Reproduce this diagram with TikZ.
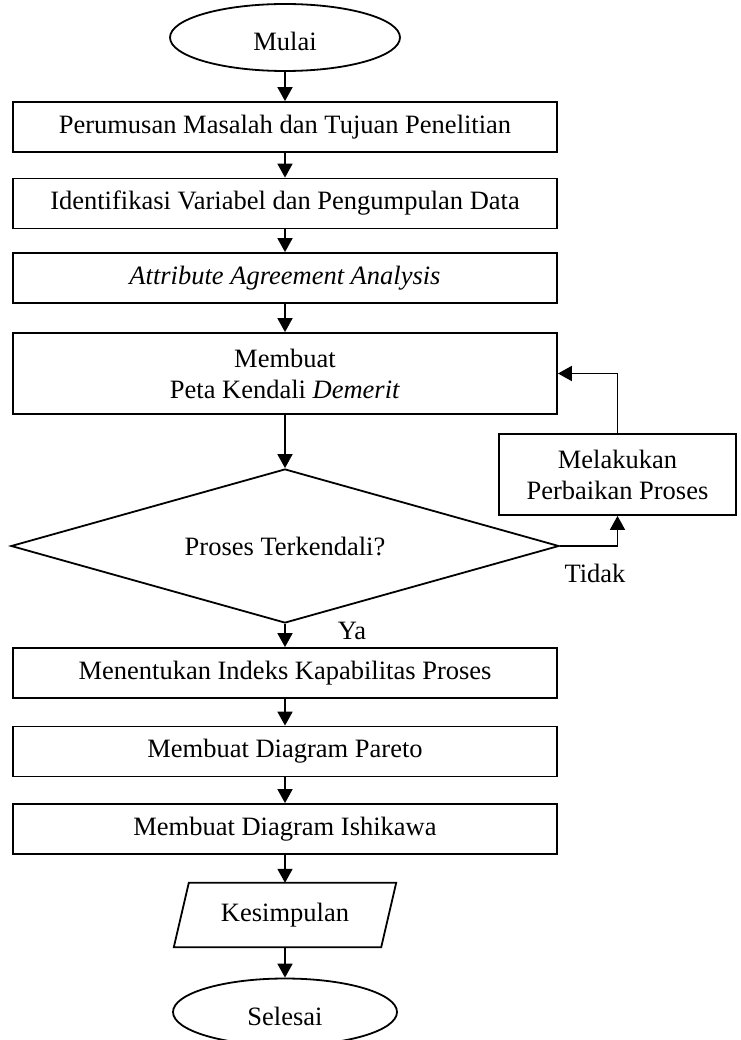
\documentclass[tikz,border=0pt]{standalone}
\usepackage{fontspec}
\setmainfont{Liberation Serif}
\usetikzlibrary{shapes.geometric,arrows.meta}
\begin{document}
\begin{tikzpicture}[x=1pt,y=-1pt,
  every node/.style={font=\fontsize{26.5}{31}\selectfont, inner sep=0pt},
  box/.style={draw, line width=1.8pt, rectangle, minimum width=544pt, minimum height=50pt, align=center},
  term/.style={draw, line width=1.8pt, ellipse, minimum width=230pt, minimum height=67pt, text height=26pt, text depth=0pt},
  dec/.style={draw, line width=1.8pt, diamond, shape aspect=3.5, minimum width=548pt, minimum height=154pt},
  arr/.style={line width=1.8pt, -{Triangle[length=14pt,width=15pt]}},
  link/.style={line width=1.8pt, line join=miter}
]
\useasboundingbox (0,0) rectangle (740,1040);
\node[term] (mulai) at (285,37.5) {Mulai};
\node[box] (r1) at (285,127) {Perumusan Masalah dan Tujuan Penelitian};
\node[box] (r2) at (285,203.5) {Identifikasi Variabel dan Pengumpulan Data};
\node[box] (r3) at (285,278) {\textit{Attribute Agreement Analysis}};
\node[box, minimum height=81pt] (r4) at (285,373.5) {Membuat\\Peta Kendali \textit{Demerit}};
\node[dec] (dec) at (285,546) {Proses Terkendali?};
\node[box, minimum width=237pt, minimum height=81pt] (mel) at (617.5,474.5) {Melakukan\\Perbaikan Proses};
\node (tidak) at (595,573) {Tidak};
\node (ya) at (352,631) {Ya};
\node[box] (r5) at (285,673) {Menentukan Indeks Kapabilitas Proses};
\node[box] (r6) at (285,751.5) {Membuat Diagram Pareto};
\node[box] (r7) at (285,829) {Membuat Diagram Ishikawa};
\node[minimum width=207pt, minimum height=64pt] (kes) at (285,915) {Kesimpulan};
\draw[link] ([xshift=7.5pt]kes.north west) -- ([xshift=7.5pt]kes.north east)
  -- ([xshift=-7.5pt]kes.south east) -- ([xshift=-7.5pt]kes.south west) -- cycle;
\node[term, minimum width=224pt] (sel) at (285,1012) {Selesai};

\draw[arr] (mulai.south) -- (r1.north);
\draw[arr] (r1.south) -- (r2.north);
\draw[arr] (r2.south) -- (r3.north);
\draw[arr] (r3.south) -- (r4.north);
\draw[arr] (r4.south) -- (dec.north);
\draw[arr] (dec.south) -- (r5.north);
\draw[arr] (r5.south) -- (r6.north);
\draw[arr] (r6.south) -- (r7.north);
\draw[arr] (r7.south) -- (kes.north);
\draw[arr] (kes.south) -- (sel.north);
\draw[arr] (dec.east) -| (mel.south);
\draw[arr] (mel.north) |- (r4.east);
\end{tikzpicture}
\end{document}
